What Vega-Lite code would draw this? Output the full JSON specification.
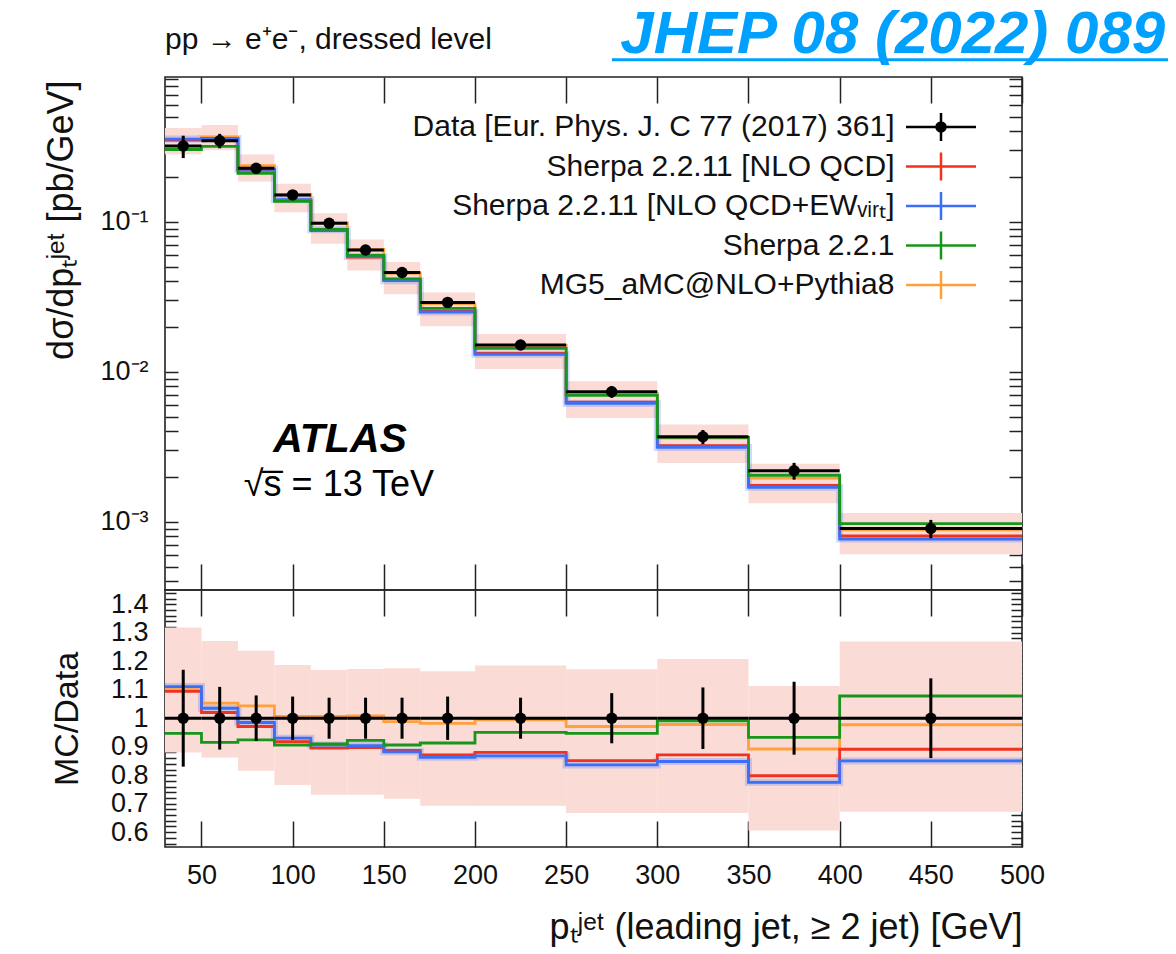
{
  "$schema": "https://vega.github.io/schema/vega-lite/v6.json",
  "autosize": {"type": "none"},
  "padding": {"left": 165, "top": 77, "right": 1011, "bottom": 877},
  "bounds": "flush",
  "spacing": 0,
  "background": "white",
  "resolve": {
    "scale": {"color": "independent", "shape": "independent"},
    "legend": {"color": "independent", "shape": "independent"}
  },
  "config": {
    "view": {"stroke": "#222", "strokeWidth": 1.6},
    "font": "Liberation Sans",
    "axis": {
      "grid": false, "domain": false, "tickColor": "#222", "tickWidth": 1.5, "tickSize": -13,
      "labelFont": "Liberation Sans", "labelFontSize": 27, "labelColor": "#111",
      "labelFlush": false, "labelOverlap": false, "labelBound": false,
      "titleFont": "Liberation Sans", "titleFontWeight": "normal", "titleColor": "#111"
    }
  },
  "datasets": {
    "bins": [
      {"lo": 30, "hi": 50, "center": 40, "data": 0.320, "dlo": 0.2656, "dhi": 0.3744, "bandLo": 0.2816, "bandHi": 0.4218, "rlo": 0.83, "rhi": 1.17, "blo": 0.88, "bhi": 1.318},
      {"lo": 50, "hi": 70, "center": 60, "data": 0.347, "dlo": 0.3088, "dhi": 0.3852, "bandLo": 0.2991, "bandHi": 0.4410, "rlo": 0.89, "rhi": 1.11, "blo": 0.862, "bhi": 1.271},
      {"lo": 70, "hi": 90, "center": 80, "data": 0.227, "dlo": 0.2088, "dhi": 0.2452, "bandLo": 0.1852, "bandHi": 0.2808, "rlo": 0.92, "rhi": 1.08, "blo": 0.816, "bhi": 1.237},
      {"lo": 90, "hi": 110, "center": 100, "data": 0.151, "dlo": 0.1395, "dhi": 0.1625, "bandLo": 0.1157, "bandHi": 0.1792, "rlo": 0.924, "rhi": 1.076, "blo": 0.766, "bhi": 1.187},
      {"lo": 110, "hi": 130, "center": 120, "data": 0.0976, "dlo": 0.0906, "dhi": 0.1046, "bandLo": 0.0713, "bandHi": 0.1141, "rlo": 0.928, "rhi": 1.072, "blo": 0.731, "bhi": 1.169},
      {"lo": 130, "hi": 150, "center": 140, "data": 0.0648, "dlo": 0.0601, "dhi": 0.0695, "bandLo": 0.04737, "bandHi": 0.07601, "rlo": 0.928, "rhi": 1.072, "blo": 0.731, "bhi": 1.173},
      {"lo": 150, "hi": 170, "center": 160, "data": 0.0459, "dlo": 0.0426, "dhi": 0.0492, "bandLo": 0.03291, "bandHi": 0.05393, "rlo": 0.928, "rhi": 1.072, "blo": 0.717, "bhi": 1.175},
      {"lo": 170, "hi": 200, "center": 185, "data": 0.0290, "dlo": 0.0268, "dhi": 0.0312, "bandLo": 0.0201, "bandHi": 0.03379, "rlo": 0.924, "rhi": 1.076, "blo": 0.693, "bhi": 1.165},
      {"lo": 200, "hi": 250, "center": 225, "data": 0.01507, "dlo": 0.01398, "dhi": 0.01616, "bandLo": 0.01044, "bandHi": 0.01786, "rlo": 0.928, "rhi": 1.072, "blo": 0.693, "bhi": 1.185},
      {"lo": 250, "hi": 300, "center": 275, "data": 0.00736, "dlo": 0.00671, "dhi": 0.00801, "bandLo": 0.00491, "bandHi": 0.00863, "rlo": 0.912, "rhi": 1.088, "blo": 0.667, "bhi": 1.172},
      {"lo": 300, "hi": 350, "center": 325, "data": 0.00369, "dlo": 0.00329, "dhi": 0.00409, "bandLo": 0.002461, "bandHi": 0.004458, "rlo": 0.892, "rhi": 1.108, "blo": 0.667, "bhi": 1.208},
      {"lo": 350, "hi": 400, "center": 375, "data": 0.00219, "dlo": 0.00191, "dhi": 0.00247, "bandLo": 0.001327, "bandHi": 0.002437, "rlo": 0.872, "rhi": 1.128, "blo": 0.606, "bhi": 1.113},
      {"lo": 400, "hi": 500, "center": 450, "data": 0.000903, "dlo": 0.000777, "dhi": 0.001029, "bandLo": 0.000607, "bandHi": 0.001146, "rlo": 0.86, "rhi": 1.14, "blo": 0.672, "bhi": 1.269}
    ],
    "mc": [
      {"series": "MG5_aMC@NLO+Pythia8", "edge": 30, "value": 0.352, "ratio": 1.10},
      {"series": "MG5_aMC@NLO+Pythia8", "edge": 50, "value": 0.3654, "ratio": 1.053},
      {"series": "MG5_aMC@NLO+Pythia8", "edge": 70, "value": 0.2368, "ratio": 1.043},
      {"series": "MG5_aMC@NLO+Pythia8", "edge": 90, "value": 0.1519, "ratio": 1.006},
      {"series": "MG5_aMC@NLO+Pythia8", "edge": 110, "value": 0.09819, "ratio": 1.006},
      {"series": "MG5_aMC@NLO+Pythia8", "edge": 130, "value": 0.06532, "ratio": 1.008},
      {"series": "MG5_aMC@NLO+Pythia8", "edge": 150, "value": 0.04535, "ratio": 0.988},
      {"series": "MG5_aMC@NLO+Pythia8", "edge": 170, "value": 0.02848, "ratio": 0.982},
      {"series": "MG5_aMC@NLO+Pythia8", "edge": 200, "value": 0.01498, "ratio": 0.994},
      {"series": "MG5_aMC@NLO+Pythia8", "edge": 250, "value": 0.007147, "ratio": 0.971},
      {"series": "MG5_aMC@NLO+Pythia8", "edge": 300, "value": 0.003609, "ratio": 0.978},
      {"series": "MG5_aMC@NLO+Pythia8", "edge": 350, "value": 0.001953, "ratio": 0.892},
      {"series": "MG5_aMC@NLO+Pythia8", "edge": 400, "value": 0.000882, "ratio": 0.977},
      {"series": "MG5_aMC@NLO+Pythia8", "edge": 500, "value": 0.000882, "ratio": 0.977},
      {"series": "Sherpa 2.2.11 [NLO QCD]", "edge": 30, "value": 0.3501, "ratio": 1.094},
      {"series": "Sherpa 2.2.11 [NLO QCD]", "edge": 50, "value": 0.3539, "ratio": 1.02},
      {"series": "Sherpa 2.2.11 [NLO QCD]", "edge": 70, "value": 0.2204, "ratio": 0.971},
      {"series": "Sherpa 2.2.11 [NLO QCD]", "edge": 90, "value": 0.1386, "ratio": 0.918},
      {"series": "Sherpa 2.2.11 [NLO QCD]", "edge": 110, "value": 0.08735, "ratio": 0.895},
      {"series": "Sherpa 2.2.11 [NLO QCD]", "edge": 130, "value": 0.05813, "ratio": 0.897},
      {"series": "Sherpa 2.2.11 [NLO QCD]", "edge": 150, "value": 0.04071, "ratio": 0.887},
      {"series": "Sherpa 2.2.11 [NLO QCD]", "edge": 170, "value": 0.02526, "ratio": 0.871},
      {"series": "Sherpa 2.2.11 [NLO QCD]", "edge": 200, "value": 0.01326, "ratio": 0.88},
      {"series": "Sherpa 2.2.11 [NLO QCD]", "edge": 250, "value": 0.006263, "ratio": 0.851},
      {"series": "Sherpa 2.2.11 [NLO QCD]", "edge": 300, "value": 0.003214, "ratio": 0.871},
      {"series": "Sherpa 2.2.11 [NLO QCD]", "edge": 350, "value": 0.001748, "ratio": 0.798},
      {"series": "Sherpa 2.2.11 [NLO QCD]", "edge": 400, "value": 0.000805, "ratio": 0.891},
      {"series": "Sherpa 2.2.11 [NLO QCD]", "edge": 500, "value": 0.000805, "ratio": 0.891},
      {"series": "Sherpa 2.2.11 [NLO QCD+EWᵥᵢᵣₜ]", "edge": 30, "value": 0.3555, "ratio": 1.111},
      {"series": "Sherpa 2.2.11 [NLO QCD+EWᵥᵢᵣₜ]", "edge": 50, "value": 0.3592, "ratio": 1.035},
      {"series": "Sherpa 2.2.11 [NLO QCD+EWᵥᵢᵣₜ]", "edge": 70, "value": 0.2236, "ratio": 0.985},
      {"series": "Sherpa 2.2.11 [NLO QCD+EWᵥᵢᵣₜ]", "edge": 90, "value": 0.1404, "ratio": 0.93},
      {"series": "Sherpa 2.2.11 [NLO QCD+EWᵥᵢᵣₜ]", "edge": 110, "value": 0.08843, "ratio": 0.906},
      {"series": "Sherpa 2.2.11 [NLO QCD+EWᵥᵢᵣₜ]", "edge": 130, "value": 0.05858, "ratio": 0.904},
      {"series": "Sherpa 2.2.11 [NLO QCD+EWᵥᵢᵣₜ]", "edge": 150, "value": 0.04048, "ratio": 0.882},
      {"series": "Sherpa 2.2.11 [NLO QCD+EWᵥᵢᵣₜ]", "edge": 170, "value": 0.02503, "ratio": 0.863},
      {"series": "Sherpa 2.2.11 [NLO QCD+EWᵥᵢᵣₜ]", "edge": 200, "value": 0.01308, "ratio": 0.868},
      {"series": "Sherpa 2.2.11 [NLO QCD+EWᵥᵢᵣₜ]", "edge": 250, "value": 0.006153, "ratio": 0.836},
      {"series": "Sherpa 2.2.11 [NLO QCD+EWᵥᵢᵣₜ]", "edge": 300, "value": 0.003129, "ratio": 0.848},
      {"series": "Sherpa 2.2.11 [NLO QCD+EWᵥᵢᵣₜ]", "edge": 350, "value": 0.001697, "ratio": 0.775},
      {"series": "Sherpa 2.2.11 [NLO QCD+EWᵥᵢᵣₜ]", "edge": 400, "value": 0.000768, "ratio": 0.85},
      {"series": "Sherpa 2.2.11 [NLO QCD+EWᵥᵢᵣₜ]", "edge": 500, "value": 0.000768, "ratio": 0.85},
      {"series": "Sherpa 2.2.1", "edge": 30, "value": 0.303, "ratio": 0.947},
      {"series": "Sherpa 2.2.1", "edge": 50, "value": 0.3175, "ratio": 0.915},
      {"series": "Sherpa 2.2.1", "edge": 70, "value": 0.2098, "ratio": 0.924},
      {"series": "Sherpa 2.2.1", "edge": 90, "value": 0.1368, "ratio": 0.906},
      {"series": "Sherpa 2.2.1", "edge": 110, "value": 0.08882, "ratio": 0.91},
      {"series": "Sherpa 2.2.1", "edge": 130, "value": 0.05975, "ratio": 0.922},
      {"series": "Sherpa 2.2.1", "edge": 150, "value": 0.04159, "ratio": 0.906},
      {"series": "Sherpa 2.2.1", "edge": 170, "value": 0.02648, "ratio": 0.913},
      {"series": "Sherpa 2.2.1", "edge": 200, "value": 0.01432, "ratio": 0.95},
      {"series": "Sherpa 2.2.1", "edge": 250, "value": 0.00697, "ratio": 0.947},
      {"series": "Sherpa 2.2.1", "edge": 300, "value": 0.003657, "ratio": 0.991},
      {"series": "Sherpa 2.2.1", "edge": 350, "value": 0.002043, "ratio": 0.933},
      {"series": "Sherpa 2.2.1", "edge": 400, "value": 0.000973, "ratio": 1.078},
      {"series": "Sherpa 2.2.1", "edge": 500, "value": 0.000973, "ratio": 1.078}
    ]
  },
  "vconcat": [
    {
      "width": 857,
      "height": 513,
      "resolve": {"axis": {"x": "independent", "y": "independent"}},
      "layer": [
        {
          "data": {"name": "bins"},
          "mark": {"type": "rect", "color": "#fadbd6"},
          "encoding": {
            "x": {"field": "lo", "type": "quantitative", "scale": {"domain": [30, 500], "nice": false, "zero": false},
              "axis": {"orient": "bottom", "values": [50, 100, 150, 200, 250, 300, 350, 400, 450, 500], "labels": false, "title": null, "tickSize": -26}},
            "x2": {"field": "hi"},
            "y": {"field": "bandLo", "type": "quantitative", "scale": {"type": "log", "domain": [0.000351, 0.922], "nice": false},
              "axis": {"orient": "left",
                "values": [0.0004, 0.0005, 0.0006, 0.0007, 0.0008, 0.0009, 0.001, 0.002, 0.003, 0.004, 0.005, 0.006, 0.007, 0.008, 0.009, 0.01, 0.02, 0.03, 0.04, 0.05, 0.06, 0.07, 0.08, 0.09, 0.1, 0.2, 0.3, 0.4, 0.5, 0.6, 0.7, 0.8, 0.9],
                "labelExpr": "datum.value == 0.1 ? '10⁻¹' : datum.value == 0.01 ? '10⁻²' : datum.value == 0.001 ? '10⁻³' : ''",
                "labelPadding": 30,
                "title": "dσ/dpₜʲᵉᵗ [pb/GeV]", "titleFontSize": 36, "titleAngle": 270,
                "titleAnchor": "end", "titleAlign": "right", "titleBaseline": "middle", "titleX": -104, "titleY": 3,
                "encode": {"ticks": {"update": {"x2": {"signal": "indexof([0.001, 0.01, 0.1], datum.value) >= 0 ? 27 : 13"}}}}}},
            "y2": {"field": "bandHi"}
          }
        },
        {
          "data": {"name": "mc"},
          "transform": [{"filter": "datum.series == 'Sherpa 2.2.11 [NLO QCD+EWᵥᵢᵣₜ]'"}],
          "mark": {"type": "line", "interpolate": "step-after", "strokeWidth": 7, "color": "#3b6ff7", "opacity": 0.25},
          "encoding": {
            "x": {"field": "edge", "type": "quantitative", "axis": null},
            "y": {"field": "value", "type": "quantitative", "axis": null}
          }
        },
        {
          "data": {"name": "mc"},
          "mark": {"type": "line", "interpolate": "step-after", "strokeWidth": 2.8},
          "encoding": {
            "x": {"field": "edge", "type": "quantitative", "axis": null},
            "y": {"field": "value", "type": "quantitative", "axis": null},
            "color": {"field": "series", "type": "nominal",
              "scale": {"domain": ["Data [Eur. Phys. J. C 77 (2017) 361]", "Sherpa 2.2.11 [NLO QCD]", "Sherpa 2.2.11 [NLO QCD+EWᵥᵢᵣₜ]", "Sherpa 2.2.1", "MG5_aMC@NLO+Pythia8"],
                "range": ["#000000", "#f0321e", "#3b6ff7", "#18961c", "#ffa03c"]},
              "legend": {"orient": "none", "legendX": 757, "legendY": 31, "title": null, "padding": 0, "offset": 0,
                "rowPadding": 1.5, "labelFont": "Liberation Sans", "labelFontSize": 30, "labelColor": "#111",
                "labelAlign": "right", "labelOffset": -65.5, "labelLimit": 1000,
                "symbolSize": 1225, "symbolStrokeWidth": 2.5, "symbolOpacity": 1}}
          }
        },
        {
          "data": {"name": "bins"},
          "mark": {"type": "rule", "color": "#000000", "strokeWidth": 3},
          "encoding": {
            "x": {"field": "lo", "type": "quantitative",
              "axis": {"orient": "top", "values": [50, 100, 150, 200, 250, 300, 350, 400, 450, 500], "labels": false, "title": null, "tickSize": -26}},
            "x2": {"field": "hi"},
            "y": {"field": "data", "type": "quantitative",
              "axis": {"orient": "right",
                "values": [0.0004, 0.0005, 0.0006, 0.0007, 0.0008, 0.0009, 0.001, 0.002, 0.003, 0.004, 0.005, 0.006, 0.007, 0.008, 0.009, 0.01, 0.02, 0.03, 0.04, 0.05, 0.06, 0.07, 0.08, 0.09, 0.1, 0.2, 0.3, 0.4, 0.5, 0.6, 0.7, 0.8, 0.9],
                "labels": false, "title": null,
                "encode": {"ticks": {"update": {"x2": {"signal": "indexof([0.001, 0.01, 0.1], datum.value) >= 0 ? -27 : -13"}}}}}}
          }
        },
        {
          "data": {"name": "bins"},
          "mark": {"type": "rule", "color": "#000000", "strokeWidth": 3},
          "encoding": {
            "x": {"field": "center", "type": "quantitative", "axis": null},
            "y": {"field": "dlo", "type": "quantitative", "axis": null},
            "y2": {"field": "dhi"}
          }
        },
        {
          "data": {"name": "bins"},
          "mark": {"type": "point", "filled": true, "color": "#000000", "size": 130, "opacity": 1},
          "encoding": {
            "x": {"field": "center", "type": "quantitative", "axis": null},
            "y": {"field": "data", "type": "quantitative", "axis": null}
          }
        },
        {
          "data": {"name": "mc"},
          "mark": {"type": "point", "filled": false, "opacity": 0, "strokeWidth": 2.5},
          "encoding": {
            "x": {"field": "edge", "type": "quantitative", "axis": null},
            "y": {"field": "value", "type": "quantitative", "axis": null},
            "color": {"field": "series", "type": "nominal",
              "scale": {"domain": ["Data [Eur. Phys. J. C 77 (2017) 361]", "Sherpa 2.2.11 [NLO QCD]", "Sherpa 2.2.11 [NLO QCD+EWᵥᵢᵣₜ]", "Sherpa 2.2.1", "MG5_aMC@NLO+Pythia8"],
                "range": ["#000000", "#f0321e", "#3b6ff7", "#18961c", "#ffa03c"]},
              "legend": {"orient": "none", "legendX": 757, "legendY": 31, "title": null, "padding": 0, "offset": 0,
                "rowPadding": 1.5, "labelFont": "Liberation Sans", "labelFontSize": 30, "labelColor": "#111",
                "labelAlign": "right", "labelOffset": -65.5, "labelLimit": 1000,
                "symbolSize": 1225, "symbolStrokeWidth": 2.5, "symbolOpacity": 1}},
            "shape": {"field": "series", "type": "nominal",
              "scale": {"domain": ["Data [Eur. Phys. J. C 77 (2017) 361]", "Sherpa 2.2.11 [NLO QCD]", "Sherpa 2.2.11 [NLO QCD+EWᵥᵢᵣₜ]", "Sherpa 2.2.1", "MG5_aMC@NLO+Pythia8"],
                "range": [
                  "M-2,0H2M0,-0.8V0.8M-0.26,0A0.26,0.26 0 1,0 0.26,0A0.26,0.26 0 1,0 -0.26,0M-0.12,0A0.12,0.12 0 1,0 0.12,0A0.12,0.12 0 1,0 -0.12,0",
                  "M-2,0H2M0,-0.8V0.8",
                  "M-2,0H2M0,-0.8V0.8",
                  "M-2,0H2M0,-0.8V0.8",
                  "M-2,0H2M0,-0.8V0.8"]},
              "legend": {"orient": "none", "legendX": 757, "legendY": 31, "title": null, "padding": 0, "offset": 0,
                "rowPadding": 1.5, "labelFont": "Liberation Sans", "labelFontSize": 30, "labelColor": "#111",
                "labelAlign": "right", "labelOffset": -65.5, "labelLimit": 1000,
                "symbolSize": 1225, "symbolStrokeWidth": 2.5, "symbolOpacity": 1}}
          }
        },
        {
          "data": {"values": [{}]},
          "mark": {"type": "text", "text": "ATLAS", "font": "Liberation Sans", "fontSize": 41, "fontWeight": "bold", "fontStyle": "italic", "align": "center", "baseline": "middle", "color": "#000000"},
          "encoding": {
            "x": {"datum": 126, "type": "quantitative", "axis": null},
            "y": {"datum": 0.0035, "type": "quantitative", "axis": null}
          }
        },
        {
          "data": {"values": [{}]},
          "mark": {"type": "text", "text": "√s̅ = 13 TeV", "font": "Liberation Sans", "fontSize": 36, "align": "center", "baseline": "middle", "color": "#000000"},
          "encoding": {
            "x": {"datum": 125.4, "type": "quantitative", "axis": null},
            "y": {"datum": 0.00176, "type": "quantitative", "axis": null}
          }
        },
        {
          "data": {"values": [{}]},
          "mark": {"type": "text", "text": "pp → e⁺e⁻, dressed level", "font": "Liberation Sans", "fontSize": 30, "align": "left", "baseline": "middle", "color": "#111"},
          "encoding": {
            "x": {"datum": 30, "type": "quantitative", "axis": null},
            "y": {"datum": 1.627, "type": "quantitative", "axis": null}
          }
        },
        {
          "data": {"values": [{}]},
          "mark": {"type": "text", "text": "JHEP 08 (2022) 089", "font": "Liberation Sans", "fontSize": 60, "fontWeight": "bold", "fontStyle": "italic", "align": "right", "baseline": "middle", "color": "#00a0ff"},
          "encoding": {
            "x": {"datum": 578.5, "type": "quantitative", "axis": null},
            "y": {"datum": 1.757, "type": "quantitative", "axis": null}
          }
        },
        {
          "data": {"values": [{}]},
          "mark": {"type": "rule", "color": "#00a0ff", "strokeWidth": 3},
          "encoding": {
            "x": {"datum": 275.1, "type": "quantitative", "axis": null},
            "x2": {"datum": 580.1},
            "y": {"datum": 1.2, "type": "quantitative", "axis": null}
          }
        }
      ]
    },
    {
      "width": 857,
      "height": 257,
      "resolve": {"axis": {"x": "independent", "y": "independent"}},
      "layer": [
        {
          "data": {"name": "bins"},
          "mark": {"type": "rect", "color": "#fadbd6"},
          "encoding": {
            "x": {"field": "lo", "type": "quantitative", "scale": {"domain": [30, 500], "nice": false, "zero": false},
              "axis": {"orient": "bottom", "values": [50, 100, 150, 200, 250, 300, 350, 400, 450, 500], "tickSize": -26, "labelPadding": 41,
                "title": "pₜʲᵉᵗ (leading jet, ≥ 2 jet) [GeV]", "titleFontSize": 36,
                "titleAnchor": "end", "titleAlign": "right", "titleBaseline": "alphabetic", "titleX": 857, "titleY": 91}},
            "x2": {"field": "hi"},
            "y": {"field": "blo", "type": "quantitative", "scale": {"domain": [0.548, 1.45], "nice": false, "zero": false},
              "axis": {"orient": "left",
                "values": [0.56, 0.58, 0.6, 0.62, 0.64, 0.66, 0.68, 0.7, 0.72, 0.74, 0.76, 0.78, 0.8, 0.82, 0.84, 0.86, 0.88, 0.9, 0.92, 0.94, 0.96, 0.98, 1, 1.02, 1.04, 1.06, 1.08, 1.1, 1.12, 1.14, 1.16, 1.18, 1.2, 1.22, 1.24, 1.26, 1.28, 1.3, 1.32, 1.34, 1.36, 1.38, 1.4, 1.42, 1.44],
                "labelExpr": "abs(datum.value * 10 - round(datum.value * 10)) < 0.001 ? format(datum.value, '~g') : ''",
                "tickSize": -11, "labelPadding": 28,
                "title": "MC/Data", "titleFontSize": 34, "titleAngle": 270, "titleBaseline": "middle", "titleX": -98,
                "encode": {"ticks": {"update": {"x2": {"signal": "abs(datum.value * 10 - round(datum.value * 10)) < 0.001 ? 26 : 11"}}}}}},
            "y2": {"field": "bhi"}
          }
        },
        {
          "data": {"name": "mc"},
          "transform": [{"filter": "datum.series == 'Sherpa 2.2.11 [NLO QCD+EWᵥᵢᵣₜ]'"}],
          "mark": {"type": "line", "interpolate": "step-after", "strokeWidth": 7, "color": "#3b6ff7", "opacity": 0.25},
          "encoding": {
            "x": {"field": "edge", "type": "quantitative", "axis": null},
            "y": {"field": "ratio", "type": "quantitative", "axis": null}
          }
        },
        {
          "data": {"name": "mc"},
          "mark": {"type": "line", "interpolate": "step-after", "strokeWidth": 2.8},
          "encoding": {
            "x": {"field": "edge", "type": "quantitative", "axis": null},
            "y": {"field": "ratio", "type": "quantitative", "axis": null},
            "color": {"field": "series", "type": "nominal", "legend": null,
              "scale": {"domain": ["Data [Eur. Phys. J. C 77 (2017) 361]", "Sherpa 2.2.11 [NLO QCD]", "Sherpa 2.2.11 [NLO QCD+EWᵥᵢᵣₜ]", "Sherpa 2.2.1", "MG5_aMC@NLO+Pythia8"],
                "range": ["#000000", "#f0321e", "#3b6ff7", "#18961c", "#ffa03c"]}}
          }
        },
        {
          "data": {"name": "bins"},
          "mark": {"type": "rule", "color": "#000000", "strokeWidth": 3},
          "encoding": {
            "x": {"field": "lo", "type": "quantitative",
              "axis": {"orient": "top", "values": [50, 100, 150, 200, 250, 300, 350, 400, 450, 500], "labels": false, "title": null, "tickSize": -26}},
            "x2": {"field": "hi"},
            "y": {"datum": 1, "type": "quantitative",
              "axis": {"orient": "right",
                "values": [0.56, 0.58, 0.6, 0.62, 0.64, 0.66, 0.68, 0.7, 0.72, 0.74, 0.76, 0.78, 0.8, 0.82, 0.84, 0.86, 0.88, 0.9, 0.92, 0.94, 0.96, 0.98, 1, 1.02, 1.04, 1.06, 1.08, 1.1, 1.12, 1.14, 1.16, 1.18, 1.2, 1.22, 1.24, 1.26, 1.28, 1.3, 1.32, 1.34, 1.36, 1.38, 1.4, 1.42, 1.44],
                "labels": false, "title": null, "tickSize": -11,
                "encode": {"ticks": {"update": {"x2": {"signal": "abs(datum.value * 10 - round(datum.value * 10)) < 0.001 ? -26 : -11"}}}}}}
          }
        },
        {
          "data": {"name": "bins"},
          "mark": {"type": "rule", "color": "#000000", "strokeWidth": 3},
          "encoding": {
            "x": {"field": "center", "type": "quantitative", "axis": null},
            "y": {"field": "rlo", "type": "quantitative", "axis": null},
            "y2": {"field": "rhi"}
          }
        },
        {
          "data": {"name": "bins"},
          "mark": {"type": "point", "filled": true, "color": "#000000", "size": 130, "opacity": 1},
          "encoding": {
            "x": {"field": "center", "type": "quantitative", "axis": null},
            "y": {"datum": 1, "type": "quantitative", "axis": null}
          }
        }
      ]
    }
  ]
}
